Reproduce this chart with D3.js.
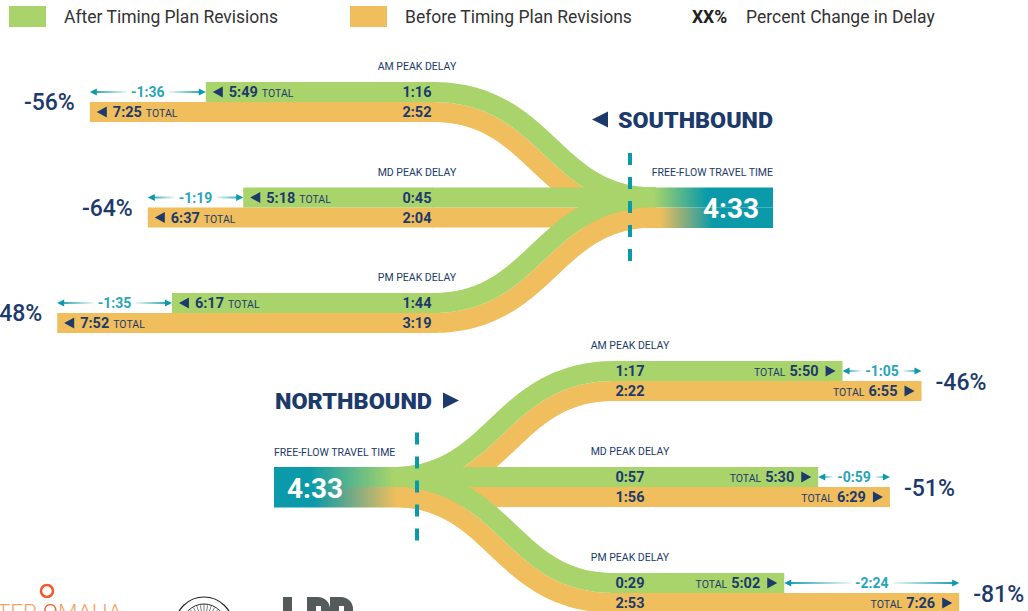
<!DOCTYPE html>
<html><head><meta charset="utf-8">
<script src="https://cdn.jsdelivr.net/npm/d3@7"></script>
<style>body{margin:0;background:#fff;overflow:hidden} svg{display:block}</style>
</head><body><svg id="c" width="1028" height="611"></svg>
<script>
// ---------------- DATA ----------------
const periods = ["AM", "MD", "PM"];
const periodLabels = ["AM PEAK DELAY", "MD PEAK DELAY", "PM PEAK DELAY"];
// Southbound
const sbTotalAfter = ["5:49", "5:18", "6:17"];
const sbTotalBefore = ["7:25", "6:37", "7:52"];
const sbDelayAfter = ["1:16", "0:45", "1:44"];
const sbDelayBefore = ["2:52", "2:04", "3:19"];
const sbDiff = ["-1:36", "-1:19", "-1:35"];
const sbPct = ["-56%", "-64%", "-48%"];
// Northbound
const nbTotalAfter = ["5:50", "5:30", "5:02"];
const nbTotalBefore = ["6:55", "6:29", "7:26"];
const nbDelayAfter = ["1:17", "0:57", "0:29"];
const nbDelayBefore = ["2:22", "1:56", "2:53"];
const nbDiff = ["-1:05", "-0:59", "-2:24"];
const nbPct = ["-46%", "-51%", "-81%"];
const freeFlow = "4:33";
const legendItems = ["After Timing Plan Revisions", "Before Timing Plan Revisions", "Percent Change in Delay"];

// ---------------- SETUP ----------------
const C = {green:"#a9d46b", orange:"#f0be5c", navy:"#1c3a6b", teal:"#0b9aa9", tealTxt:"#27a5b5", legend:"#333"};
const FONT = "Roboto, 'Liberation Sans', Arial, sans-serif";
const toSec = s => { const [m, x] = s.replace("-", "").split(":").map(Number); return m * 60 + x; };
const svg = d3.select("#c").style("font-family", FONT);
const defs = svg.append("defs");
const H = 20;

const ySouth = d3.scalePoint().domain(periods).range([102, 313]);
const yNorth = d3.scalePoint().domain(periods).range([381, 593]);
const xSouth = d3.scaleLinear().domain([0, 200]).range([297.6, 56]);
const xNorth = d3.scaleLinear().domain([0, 200]).range([749, 992]);

const S = {curveA: 432, curveB: 656, label: 417, dash: 630, boxL: 640, boxR: 773};
const N = {curveA: 391, curveB: 615, label: 630, dash: 417, boxL: 274, boxR: 407};

function ribbon(x0, y0, x1, y1, a, b) {
  const xm = (x0 + x1) / 2, n = 100, top = [], bot = [];
  for (let i = 0; i <= n; i++) {
    const t = i / n, u = 1 - t;
    const px = u*u*u*x0 + 3*u*u*t*xm + 3*u*t*t*xm + t*t*t*x1;
    const py = u*u*u*y0 + 3*u*u*t*y0 + 3*u*t*t*y1 + t*t*t*y1;
    const dx = 3*u*u*(xm-x0) + 3*t*t*(x1-xm);
    const dy = 6*u*t*(y1-y0);
    const L = Math.hypot(dx, dy), nx = -dy / L, ny = dx / L;
    top.push([px + nx*a, py + ny*a]); bot.push([px + nx*b, py + ny*b]);
  }
  return d3.line()(top.concat(bot.reverse())) + "Z";
}

const gFlows = svg.append("g");
// orange first, then green
[["orange", 0, H], ["green", -H, 0]].forEach(([col, a, b]) => {
  periods.forEach((p, i) => {
    // southbound
    gFlows.append("path").attr("fill", C[col])
      .attr("d", ribbon(S.curveA, ySouth(p), S.curveB, ySouth("MD"), a, b));
    const xs = xSouth(toSec(col === "green" ? sbDelayAfter[i] : sbDelayBefore[i]));
    gFlows.append("rect").attr("fill", C[col]).attr("x", xs).attr("y", ySouth(p) + a)
      .attr("width", S.curveA + 1 - xs).attr("height", b - a);
    // northbound
    gFlows.append("path").attr("fill", C[col])
      .attr("d", ribbon(N.curveA, yNorth("MD"), N.curveB, yNorth(p), a, b));
    const xn = xNorth(toSec(col === "green" ? nbDelayAfter[i] : nbDelayBefore[i]));
    gFlows.append("rect").attr("fill", C[col]).attr("x", N.curveB - 1).attr("y", yNorth(p) + a)
      .attr("width", xn - N.curveB + 1).attr("height", b - a);
  });
});

// gradients for free-flow boxes
function grad(id, x1, x2, stops) {
  const g = defs.append("linearGradient").attr("id", id).attr("gradientUnits", "userSpaceOnUse")
    .attr("x1", x1).attr("x2", x2).attr("y1", 0).attr("y2", 0);
  stops.forEach(([o, c, op]) => g.append("stop").attr("offset", o).attr("stop-color", c).attr("stop-opacity", op == null ? 1 : op));
}
grad("sTop", S.boxL, S.boxR, [[0, C.green], [0.1, C.green], [0.5, C.teal], [1, C.teal]]);
grad("sBot", S.boxL, S.boxR, [[0, C.orange], [0.15, C.orange], [0.55, C.teal], [1, C.teal]]);
grad("nTop", N.boxL, N.boxR, [[0, C.teal], [0.27, C.teal], [0.9, C.green], [1, C.green]]);
grad("nBot", N.boxL, N.boxR, [[0, C.teal], [0.3, C.teal], [0.92, C.orange], [1, C.orange]]);

const yMS = ySouth("MD"), yMN = yNorth("MD");
svg.append("rect").attr("x", S.boxL).attr("y", yMS - H).attr("width", S.boxR - S.boxL).attr("height", H).attr("fill", "url(#sTop)");
svg.append("rect").attr("x", S.boxL).attr("y", yMS).attr("width", S.boxR - S.boxL).attr("height", H + 0.5).attr("fill", "url(#sBot)");
svg.append("rect").attr("x", N.boxL).attr("y", yMN - H).attr("width", N.boxR - N.boxL).attr("height", H).attr("fill", "url(#nTop)");
svg.append("rect").attr("x", N.boxL).attr("y", yMN).attr("width", N.boxR - N.boxL).attr("height", H + 0.5).attr("fill", "url(#nBot)");

svg.append("text").attr("x", 731).attr("y", yMS + 10.5).attr("text-anchor", "middle")
  .attr("fill", "#fff").attr("font-weight", "bold").attr("font-size", 28).text(freeFlow);
svg.append("text").attr("x", 315).attr("y", yMN + 10.5).attr("text-anchor", "middle")
  .attr("fill", "#fff").attr("font-weight", "bold").attr("font-size", 28).text(freeFlow);
svg.append("text").attr("x", S.boxR).attr("y", yMS - 31.5).attr("text-anchor", "end")
  .attr("fill", C.navy).attr("font-size", 10.5).text("FREE-FLOW TRAVEL TIME");
svg.append("text").attr("x", N.boxL).attr("y", yMN - 31).attr("text-anchor", "start")
  .attr("fill", C.navy).attr("font-size", 10.5).text("FREE-FLOW TRAVEL TIME");

// dashed lines
[[S.dash, yMS], [N.dash, yMN]].forEach(([x, y]) => {
  svg.append("line").attr("x1", x).attr("x2", x).attr("y1", y - 54.5).attr("y2", y + 55)
    .attr("stroke", C.teal).attr("stroke-width", 4).attr("stroke-dasharray", "12 12");
});

// direction titles
const tri = (x, y, w, h, dir) => dir < 0
  ? `M${x},${y}L${x + w},${y - h / 2}L${x + w},${y + h / 2}Z`
  : `M${x + w},${y}L${x},${y - h / 2}L${x},${y + h / 2}Z`;
svg.append("path").attr("d", tri(592, 119.5, 16, 16, -1)).attr("fill", C.navy);
svg.append("text").attr("x", 618).attr("y", 127.5).attr("fill", C.navy).attr("font-weight", 900)
  .attr("font-size", 21.5).attr("textLength", 155).attr("lengthAdjust", "spacingAndGlyphs").text("SOUTHBOUND");
svg.append("text").attr("x", 275).attr("y", 408.5).attr("fill", C.navy).attr("font-weight", 900)
  .attr("font-size", 21.5).attr("textLength", 157).attr("lengthAdjust", "spacingAndGlyphs").text("NORTHBOUND");
svg.append("path").attr("d", tri(443, 400.5, 16, 16, 1)).attr("fill", C.navy);

// arrows
let gid = 0;
function dblArrow(xL, xR, y, label) {
  const mid = (xL + xR) / 2, gap = 21;
  const idL = "ag" + (gid++), idR = "ag" + (gid++);
  grad(idL, xL, mid - gap, [[0, C.teal], [1, C.teal, 0.08]]);
  grad(idR, mid + gap, xR, [[0, C.teal, 0.08], [1, C.teal]]);
  svg.append("line").attr("x1", xL + 5).attr("x2", mid - gap).attr("y1", y).attr("y2", y).attr("stroke", `url(#${idL})`).attr("stroke-width", 2);
  svg.append("line").attr("x1", mid + gap).attr("x2", xR - 5).attr("y1", y).attr("y2", y).attr("stroke", `url(#${idR})`).attr("stroke-width", 2);
  svg.append("path").attr("d", tri(xL, y, 7, 7, -1)).attr("fill", C.teal);
  svg.append("path").attr("d", tri(xR - 7, y, 7, 7, 1)).attr("fill", C.teal);
  svg.append("text").attr("x", mid).attr("y", y + 5).attr("text-anchor", "middle")
    .attr("fill", C.tealTxt).attr("font-weight", "bold").attr("font-size", 14).text(label);
}

// southbound labels
periods.forEach((p, i) => {
  const y = ySouth(p);
  const xa = xSouth(toSec(sbDelayAfter[i])), xb = xSouth(toSec(sbDelayBefore[i]));
  svg.append("text").attr("x", S.label).attr("y", y - 32).attr("text-anchor", "middle")
    .attr("fill", C.navy).attr("font-size", 10.5).text(periodLabels[i]);
  svg.append("text").attr("x", S.label).attr("y", y - 5).attr("text-anchor", "middle")
    .attr("fill", C.navy).attr("font-weight", "bold").attr("font-size", 14.5).text(sbDelayAfter[i]);
  svg.append("text").attr("x", S.label).attr("y", y + 15).attr("text-anchor", "middle")
    .attr("fill", C.navy).attr("font-weight", "bold").attr("font-size", 14.5).text(sbDelayBefore[i]);
  [[xa, y - 10, sbTotalAfter[i]], [xb, y + 10, sbTotalBefore[i]]].forEach(([x, yc, tot]) => {
    svg.append("path").attr("d", tri(x + 7, yc, 10, 11, -1)).attr("fill", C.navy);
    const t = svg.append("text").attr("x", x + 23).attr("y", yc + 5).attr("fill", C.navy);
    t.append("tspan").attr("font-weight", "bold").attr("font-size", 14.5).text(tot);
    t.append("tspan").attr("font-size", 10.5).attr("dx", 4).text("TOTAL");
  });
  dblArrow(xb, xa, y - 10, sbDiff[i]);
  svg.append("text").attr("x", xb - 15).attr("y", y + 8).attr("text-anchor", "end")
    .attr("fill", C.navy).attr("font-size", 23).attr("font-weight", 500).text(sbPct[i]);
});

// northbound labels
periods.forEach((p, i) => {
  const y = yNorth(p);
  const xa = xNorth(toSec(nbDelayAfter[i])), xb = xNorth(toSec(nbDelayBefore[i]));
  svg.append("text").attr("x", N.label).attr("y", y - 32).attr("text-anchor", "middle")
    .attr("fill", C.navy).attr("font-size", 10.5).text(periodLabels[i]);
  svg.append("text").attr("x", N.label).attr("y", y - 5).attr("text-anchor", "middle")
    .attr("fill", C.navy).attr("font-weight", "bold").attr("font-size", 14.5).text(nbDelayAfter[i]);
  svg.append("text").attr("x", N.label).attr("y", y + 15).attr("text-anchor", "middle")
    .attr("fill", C.navy).attr("font-weight", "bold").attr("font-size", 14.5).text(nbDelayBefore[i]);
  [[xa, y - 10, nbTotalAfter[i]], [xb, y + 10, nbTotalBefore[i]]].forEach(([x, yc, tot]) => {
    svg.append("path").attr("d", tri(x - 17, yc, 10, 11, 1)).attr("fill", C.navy);
    const t = svg.append("text").attr("x", x - 24).attr("y", yc + 5).attr("text-anchor", "end").attr("fill", C.navy);
    t.append("tspan").attr("font-size", 10.5).text("TOTAL");
    t.append("tspan").attr("font-weight", "bold").attr("font-size", 14.5).attr("dx", 4).text(tot);
  });
  dblArrow(xa, xb, y - 10, nbDiff[i]);
  svg.append("text").attr("x", xb + 14).attr("y", y + 8.5).attr("text-anchor", "start")
    .attr("fill", C.navy).attr("font-size", 23).attr("font-weight", 500).text(nbPct[i]);
});

// legend
svg.append("rect").attr("x", 9).attr("y", 6).attr("width", 37).attr("height", 21).attr("fill", C.green);
svg.append("rect").attr("x", 350).attr("y", 6).attr("width", 37).attr("height", 21).attr("fill", C.orange);
[[64, legendItems[0]], [405, legendItems[1]], [746, legendItems[2]]].forEach(([x, s]) => {
  svg.append("text").attr("x", x).attr("y", 23).attr("fill", C.legend).attr("font-size", 17.5).text(s);
});
svg.append("text").attr("x", 692).attr("y", 23).attr("fill", "#222").attr("font-weight", "bold").attr("font-size", 17.5).text("XX%");

// logos (partially visible at bottom edge)
const lg = svg.append("g");
const gt = lg.append("text").attr("x", 122).attr("y", 620).attr("text-anchor", "end")
  .attr("font-size", 22.5).attr("font-weight", 300).attr("fill", "#f4a467");
gt.append("tspan").text("GREATER ");
gt.append("tspan").attr("fill", "#f15a29").text("O");
gt.append("tspan").text("MAHA");
lg.append("circle").attr("cx", 47).attr("cy", 591).attr("r", 6).attr("fill", "none").attr("stroke", "#f15a29").attr("stroke-width", 2.5);
lg.append("circle").attr("cx", 204).attr("cy", 626).attr("r", 29).attr("fill", "none").attr("stroke", "#222").attr("stroke-width", 1.2);
lg.append("circle").attr("cx", 204).attr("cy", 626).attr("r", 22).attr("fill", "none").attr("stroke", "#222").attr("stroke-width", 1);
d3.range(-70, 71, 10).forEach(a => {
  const r = a * Math.PI / 180;
  lg.append("line").attr("x1", 204 + 8 * Math.sin(r)).attr("y1", 626 - 8 * Math.cos(r))
    .attr("x2", 204 + 21 * Math.sin(r)).attr("y2", 626 - 21 * Math.cos(r)).attr("stroke", "#444").attr("stroke-width", 0.7);
});
lg.append("rect").attr("x", 283).attr("y", 597).attr("width", 9).attr("height", 14).attr("fill", "#555b5b");
lg.append("path").attr("d", "M307,611V597H318A12,12 0 0 1 330,609V611H321V606H316V611Z").attr("fill", "#555b5b");
lg.append("path").attr("d", "M330,611V597H341A12,12 0 0 1 353,609V611H344V606H339V611Z").attr("fill", "#555b5b");
</script></body></html>
